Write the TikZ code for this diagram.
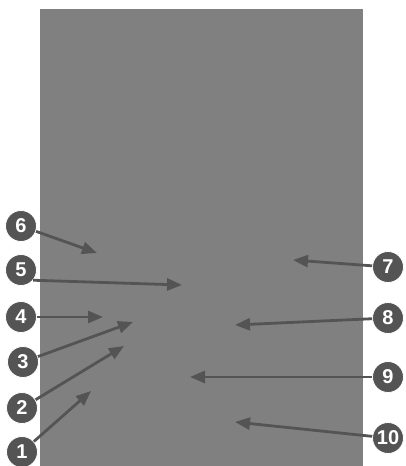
\documentclass[tikz,border=0pt]{standalone}
\usepackage{fontspec}
\setmainfont{Liberation Sans}
\usetikzlibrary{arrows.meta}
\begin{document}
\begin{tikzpicture}[x=1pt,y=-1pt,
    callout/.style={circle, fill=calloutColor, draw=white, line width=0.8pt,
        minimum size=31pt, inner sep=0pt, text=white,
        font=\fontsize{20}{20}\selectfont\bfseries},
    pointer/.style={draw=calloutColor, line width=2.8pt,
        -{Triangle[length=15pt,width=12pt]}}]
    % Define colors
    \definecolor{panelColor}{RGB}{128,128,128}
    \definecolor{calloutColor}{RGB}{84,84,84}
    % Picture frame
    \useasboundingbox (0,0) rectangle (405,466);
    % Gray panel
    \fill[panelColor] (40,9) rectangle (363,466);
    % Arrow tips
    \coordinate (t1) at (91,391);
    \coordinate (t2) at (124,346);
    \coordinate (t3) at (133,322);
    \coordinate (t4) at (103,317);
    \coordinate (t5) at (182,285);
    \coordinate (t6) at (97,253);
    \coordinate (t7) at (293,260);
    \coordinate (t8) at (235,325);
    \coordinate (t9) at (190,377);
    \coordinate (t10) at (235,422);
    % Left callouts
    \node[callout] (c1) at (22,452) {1};
    \node[callout] (c2) at (22,408) {2};
    \node[callout] (c3) at (23,362) {3};
    \node[callout] (c4) at (21,317) {4};
    \node[callout] (c5) at (21,270) {5};
    \node[callout] (c6) at (21,226) {6};
    % Right callouts
    \node[callout] (c7) at (388,267) {7};
    \node[callout] (c8) at (388,318) {8};
    \node[callout] (c9) at (388,377) {9};
    \node[callout] (c10) at (388,438) {10};
    % Pointers
    \draw[pointer] (c1) -- (t1);
    \draw[pointer] (c2) -- (t2);
    \draw[pointer] (c3) -- (t3);
    \draw[pointer] (c4) -- (t4);
    \draw[pointer] (c5.-40) -- (t5);
    \draw[pointer] (c6) -- (t6);
    \draw[pointer] (c7) -- (t7);
    \draw[pointer] (c8) -- (t8);
    \draw[pointer] (c9) -- (t9);
    \draw[pointer] (c10) -- (t10);
\end{tikzpicture}
\end{document}
